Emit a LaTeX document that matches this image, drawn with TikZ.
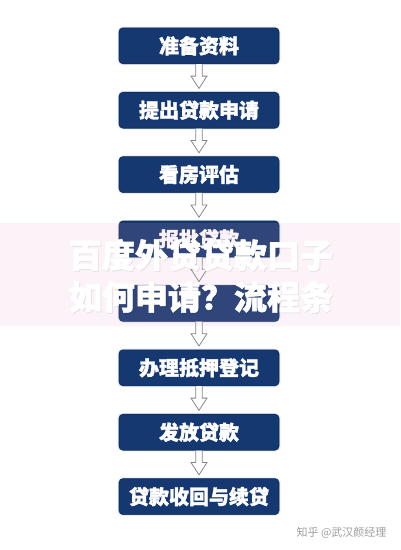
\documentclass[tikz,border=0pt]{standalone}
\usepackage{fontspec}
\usetikzlibrary{calc}
\newfontfamily\cjk{Noto Sans CJK SC}
\newfontfamily\cjkheavy{Noto Sans CJK SC}[BoldFeatures={FakeBold=1.6}]
\definecolor{boxblue}{RGB}{22,56,112}
\definecolor{boxedge}{RGB}{14,40,84}
\definecolor{arrowgray}{RGB}{135,135,135}
\definecolor{bandpink}{RGB}{225,165,200}
\definecolor{glow}{RGB}{170,200,235}
\newcommand\harrow[2]{%
  \draw[hollowarr] ($(#1.south)+(-3.3,0)$) -- ($(#1.south)+(-3.3,12)$) -- ($(#1.south)+(-8,12)$)
    -- ($(#2.north)+(0,-3.5)$) -- ($(#1.south)+(8,12)$) -- ($(#1.south)+(3.3,12)$) -- ($(#1.south)+(3.3,0)$);}
\begin{document}
\begin{tikzpicture}[x=1pt,y=-1pt,
  stepbox/.style={rectangle, rounded corners=4pt, fill=boxblue, draw=boxedge, line width=0.6pt,
    minimum width=160pt, minimum height=36pt, inner sep=0pt, text=white, anchor=north,
    font=\cjkheavy\bfseries\fontsize{20}{20}\selectfont,
    preaction={draw=glow, line width=2.5pt, opacity=0.35}},
  hollowarr/.style={draw=arrowgray, fill=white, line width=0.8pt, line join=miter},
  wmtext/.style={font=\cjkheavy\bfseries\fontsize{33}{33}\selectfont, text=white},
  wmshadow/.style={font=\cjkheavy\bfseries\fontsize{33}{33}\selectfont, text=black, opacity=0.05},
  credit/.style={font=\cjk\fontsize{11}{11}\selectfont, text=black!38, anchor=east}]
\useasboundingbox (0,0) rectangle (400,550);
\fill[white] (0,0) rectangle (400,550);
\node[stepbox] (b1) at (199,27.5) {准备资料};
\node[stepbox] (b2) at (199,91.9) {提出贷款申请};
\node[stepbox] (b3) at (199,156.3) {看房评估};
\node[stepbox] (b4) at (199,220.7) {\raisebox{2.5pt}{报批贷款}};
\node[stepbox] (b5) at (199,285.1) {};
\node[stepbox] (b6) at (199,349.5) {办理抵押登记};
\node[stepbox] (b7) at (199,413.9) {发放贷款};
\node[stepbox] (b8) at (199,478.3) {贷款收回与续贷};
\harrow{b1}{b2}
\harrow{b2}{b3}
\harrow{b3}{b4}
\harrow{b4}{b5}
\harrow{b5}{b6}
\harrow{b6}{b7}
\harrow{b7}{b8}
% watermark band
\fill[bandpink, opacity=0.13] (0,223) rectangle (400,326);
\node[wmshadow] (w1s) at (202,256) {百度外贷贷款口子};
\node[wmshadow] (w2s) at (202,298) {如何申请？流程条};
\node[wmtext] (w1) at (201,255) {百度外贷贷款口子};
\node[wmtext] (w2) at (201,297) {如何申请？流程条};
\node[credit] (cr) at (390,533) {知乎 @武汉颜经理};
\end{tikzpicture}
\end{document}
